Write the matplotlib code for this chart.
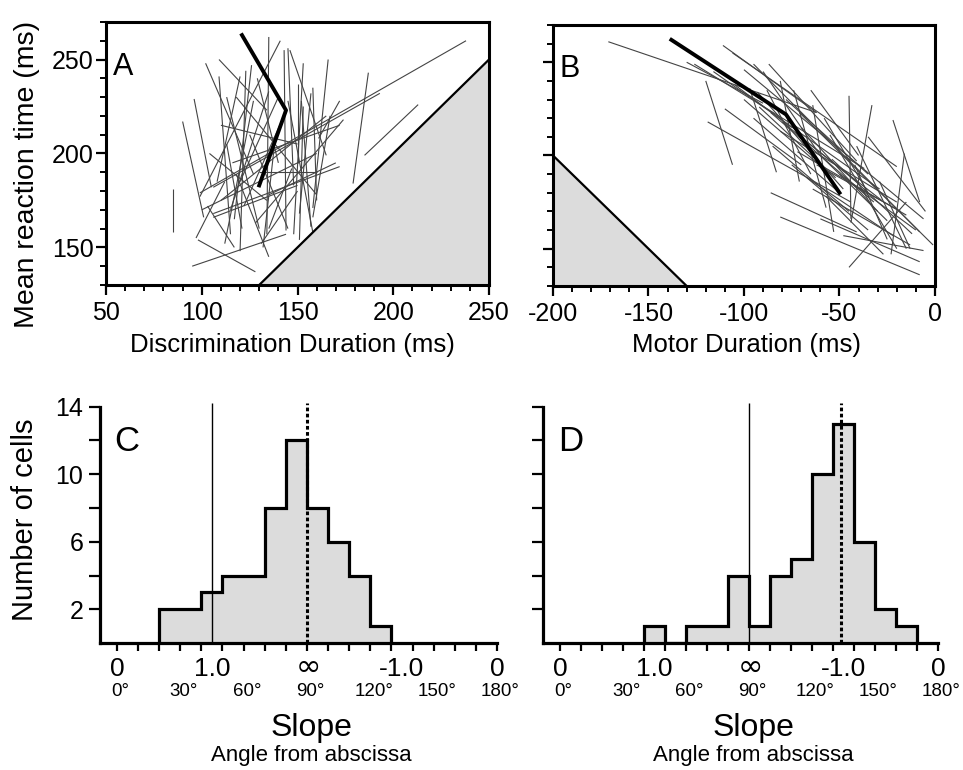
import numpy as np
import matplotlib.pyplot as plt
from matplotlib.ticker import MultipleLocator

plt.rcParams['font.family'] = ['Liberation Sans', 'DejaVu Sans']
plt.rcParams['axes.unicode_minus'] = False

# --- panel A: one regression segment per cell (x1, y1, x2, y2) ---
disc_segments = [
    (85, 181, 85, 158), (90, 217, 101, 166), (96, 229, 105, 182),
    (99, 179, 238, 260), (106, 182, 193, 232), (185, 199, 213, 226),
    (187, 243, 179, 184), (166, 250, 158, 171), (153, 248, 148, 157),
    (146, 255, 165, 199), (102, 248, 127, 189), (109, 241, 115, 157),
    (109, 250, 134, 223), (123, 244, 120, 148), (135, 262, 134, 157),
    (141, 260, 99, 177), (143, 255, 144, 159), (145, 256, 148, 183),
    (152, 228, 157, 161), (153, 225, 151, 154), (167, 220, 158, 166),
    (174, 218, 128, 163), (172, 193, 106, 168), (98, 154, 128, 137),
    (95, 140, 144, 157), (120, 241, 108, 185), (126, 247, 117, 165),
    (113, 230, 130, 160), (104, 200, 134, 175), (116, 195, 172, 215),
    (127, 228, 112, 152), (135, 233, 115, 170), (150, 237, 150, 195),
    (157, 232, 151, 168), (140, 230, 120, 185), (110, 215, 150, 205),
    (118, 230, 160, 178), (100, 170, 160, 200), (106, 166, 150, 183),
    (110, 175, 165, 220), (130, 190, 160, 190), (138, 205, 132, 150),
    (147, 192, 135, 160), (158, 235, 160, 175), (125, 210, 145, 160),
    (113, 205, 121, 160), (103, 172, 117, 150), (129, 240, 140, 195),
    (142, 218, 122, 172), (118, 189, 135, 145), (131, 152, 150, 180),
    (161, 208, 172, 228), (97, 155, 112, 185), (135, 178, 170, 195),
    (145, 228, 158, 158),
]
disc_mean_x = [121, 144, 130]
disc_mean_y = [263, 223, 183]

# --- panel B ---
motor_segments = [
    (-171, 261, -62, 223), (-111, 259, -62, 223), (-106, 255, -20, 194),
    (-87, 249, -41, 197), (-120, 240, -106, 195), (-119, 218, -44, 175),
    (-86, 180, -41, 159), (-81, 167, -8, 136), (-45, 232, -44, 166),
    (-33, 227, -44, 164), (-22, 219, -8, 175), (-16, 201, -23, 147),
    (-45, 140, -15, 175), (-64, 227, -53, 159), (-74, 235, -57, 172),
    (-95, 249, -8, 159), (-126, 249, -37, 193), (-116, 245, -29, 182),
    (-100, 246, -6, 166), (-71, 223, -1, 152), (-60, 166, -8, 143),
    (-48, 157, -6, 149), (-29, 186, -13, 150), (-64, 182, -13, 152),
    (-93, 234, -48, 182), (-86, 223, -32, 175), (-81, 213, -20, 175),
    (-72, 202, -15, 168), (-67, 188, -22, 157), (-41, 205, -15, 150),
    (-81, 240, -71, 186), (-97, 236, -83, 191), (-57, 178, -27, 147),
    (-55, 211, -20, 150), (-90, 245, -60, 200), (-78, 230, -35, 190),
    (-70, 215, -30, 170), (-100, 230, -55, 190), (-60, 200, -25, 165),
    (-50, 190, -10, 160), (-110, 225, -70, 195), (-85, 205, -45, 170),
    (-65, 235, -40, 200), (-75, 195, -35, 160), (-42, 195, -25, 155),
    (-105, 238, -75, 215), (-95, 220, -50, 180), (-58, 220, -35, 180),
    (-130, 250, -90, 228), (-35, 210, -5, 170), (-62, 195, -18, 170),
    (-88, 235, -65, 190), (-92, 226, -52, 188), (-68, 208, -28, 176),
    (-54, 198, -12, 158), (-80, 218, -40, 185),
]
motor_mean_x = [-138, -78, -50]
motor_mean_y = [262, 222, 180]

# --- panels C, D: slope angle histograms (10 deg bins) ---
disc_edges = [20, 30, 40, 50, 60, 70, 80, 90, 100, 110, 120, 130]
disc_counts = [2, 2, 3, 4, 4, 8, 12, 8, 6, 4, 1]
disc_ref, disc_median = 45, 90

motor_edges = [40, 50, 60, 70, 80, 90, 100, 110, 120, 130, 140, 150, 160, 170]
motor_counts = [1, 0, 1, 1, 4, 1, 4, 5, 10, 13, 6, 2, 1]
motor_ref, motor_median = 90, 134

slope_ticks = [0, 45, 90, 135, 180]
slope_labels = ['0', '1.0', r'$\infty$', '-1.0', '0']
angle_ticks = [0, 30, 60, 90, 120, 150, 180]

thin_col = '#444444'
fill_col = '#dcdcdc'

fig = plt.figure(figsize=(9.63, 7.7), dpi=100)


def scatter_panel(ax, segs, mx, my, xlim, letter):
    for x1, y1, x2, y2 in segs:
        ax.plot([x1, x2], [y1, y2], color=thin_col, lw=0.8, solid_capstyle='butt')
    ax.plot(mx, my, color='k', lw=2.8)
    ax.set_xlim(*xlim)
    ax.set_ylim(130, 270)
    ax.xaxis.set_major_locator(MultipleLocator(50))
    ax.xaxis.set_minor_locator(MultipleLocator(10))
    ax.set_yticks([150, 200, 250])
    ax.yaxis.set_minor_locator(MultipleLocator(10))
    ax.tick_params(which='major', direction='out', length=7.5, width=1.6,
                   labelsize=18, pad=4)
    ax.tick_params(which='minor', direction='out', length=4.5, width=1.4)
    ax.tick_params(axis='y', which='major', pad=1.5)
    for sp in ax.spines.values():
        sp.set_linewidth(2.2)
    ax.text(0.018, 0.80, letter, transform=ax.transAxes, fontsize=22,
            ha='left', va='baseline')


axA = fig.add_axes([0.1101, 0.6299, 0.3977, 0.3416])
scatter_panel(axA, disc_segments, disc_mean_x, disc_mean_y, (50, 250), 'A')
# forbidden region: reaction time shorter than discrimination duration
xa = np.array(axA.get_xlim())
axA.fill_between([130, xa[1]], 130, [130, xa[1]], color=fill_col, lw=0, zorder=0)
axA.plot([130, xa[1]], [130, xa[1]], color='k', lw=1.6)

axB = fig.add_axes([0.5742, 0.6286, 0.3967, 0.3390])
scatter_panel(axB, motor_segments, motor_mean_x, motor_mean_y, (-200, 0), 'B')
axB.set_yticklabels([])
xb = np.array([-200, -130])
axB.fill_between(xb, 130, -xb, color=fill_col, lw=0, zorder=0)
axB.plot(xb, -xb, color='k', lw=1.6)

fig.text(27 / 963, 1 - 174 / 770, 'Mean reaction time (ms)', rotation=90,
         ha='center', va='center', fontsize=20.5)
fig.text(292 / 963, 1 - 345 / 770, 'Discrimination Duration (ms)',
         ha='center', va='center', fontsize=18.5)
fig.text(746 / 963, 1 - 345 / 770, 'Motor Duration (ms)',
         ha='center', va='center', fontsize=18.5)


def hist_panel(ax, edges, counts, ref, med, letter, ylabels):
    ax.stairs(counts, edges, fill=True, color=fill_col, lw=0)
    ax.stairs(counts, edges, color='k', lw=2.3)
    ax.vlines(ref, 0, 14.2, color='k', lw=1.0)
    ax.vlines(med, 0, 14.2, color='k', lw=2.2, linestyles=(0, (1.2, 0.8)))
    ax.set_xlim(-8, 181)
    ax.set_ylim(0, 14.2)
    for s in ('top', 'right'):
        ax.spines[s].set_visible(False)
    ax.spines['left'].set_bounds(0, 14)
    ax.spines['bottom'].set_bounds(-8, 180)
    for s in ('left', 'bottom'):
        ax.spines[s].set_linewidth(2.3)
    ax.set_xticks(np.arange(0, 181, 10))
    ax.set_xticklabels([])
    ax.set_yticks(np.arange(2, 15, 2))
    if ylabels:
        ax.set_yticklabels(['2', '', '6', '', '10', '', '14'])
    else:
        ax.set_yticklabels([])
    ax.tick_params(axis='x', direction='out', length=6, width=1.6)
    ax.tick_params(axis='y', direction='out', length=8, width=1.6,
                   labelsize=18, pad=4)
    for xv, lab in zip(slope_ticks, slope_labels):
        is_inf = lab.startswith('$')
        ax.annotate(lab, xy=(xv, 0), xycoords=('data', 'axes fraction'),
                    xytext=(0, -17.5 if is_inf else -18.5),
                    textcoords='offset points',
                    ha='center', va='center', fontsize=22 if is_inf else 19)
    for xv in angle_ticks:
        ax.annotate(f'{xv}\u00b0', xy=(xv, 0), xycoords=('data', 'axes fraction'),
                    xytext=(2.5, -35), textcoords='offset points',
                    ha='center', va='center', fontsize=13.5)
    ax.annotate('Slope', xy=(92, 0), xycoords=('data', 'axes fraction'),
                xytext=(0, -61), textcoords='offset points',
                ha='center', va='center', fontsize=23)
    ax.annotate('Angle from abscissa', xy=(92, 0),
                xycoords=('data', 'axes fraction'),
                xytext=(0, -81), textcoords='offset points',
                ha='center', va='center', fontsize=16)
    ax.text(-1, 11.4, letter, fontsize=25, ha='left', va='baseline')


axC = fig.add_axes([0.1038, 0.1649, 0.4145, 0.3113])
hist_panel(axC, disc_edges, disc_counts, disc_ref, disc_median, 'C', True)

axD = fig.add_axes([0.5642, 0.1649, 0.4120, 0.3113])
hist_panel(axD, motor_edges, motor_counts, motor_ref, motor_median, 'D', False)

fig.text(25 / 963, 1 - 520 / 770, 'Number of cells', rotation=90,
         ha='center', va='center', fontsize=21)

fig.savefig('out.png', dpi=100)
